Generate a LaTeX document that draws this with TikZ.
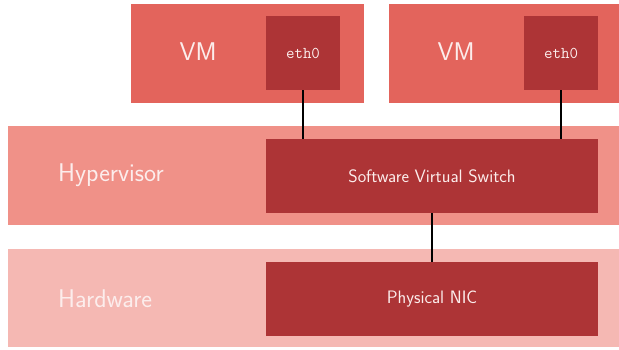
\documentclass[tikz,border=0pt]{standalone}
\usepackage{fontspec}
\definecolor{vmred}{HTML}{E3645C}
\definecolor{hypred}{HTML}{F09188}
\definecolor{hwred}{HTML}{F5B8B3}
\definecolor{devred}{HTML}{AD3436}
\definecolor{labeltext}{HTML}{FCEDEC}
\begin{document}
\begin{tikzpicture}[x=1pt,y=1pt,
  device/.style={fill=devred,draw=none,inner sep=0pt,text=labeltext,font=\sffamily\fontsize{18}{21}\selectfont},
  iface/.style={fill=devred,draw=none,inner sep=0pt,minimum width=74pt,minimum height=74pt,text=labeltext,font=\ttfamily\fontsize{16.5}{19}\selectfont},
  biglabel/.style={text=labeltext,font=\sffamily\fontsize{25.6}{30}\selectfont,inner sep=0pt},
  wire/.style={draw=black,line width=1.4pt}]
  \useasboundingbox (0,0) rectangle (619,349);
  % layers
  \fill[vmred] (131,246) rectangle (364,345);
  \fill[vmred] (389,246) rectangle (619,345);
  \fill[hypred] (8,124) rectangle (619,223);
  \fill[hwred] (8,2) rectangle (619,100);
  % layer labels
  \node[biglabel] (vm1) at (198,297) {VM};
  \node[biglabel] (vm2) at (456,297) {VM};
  \node[biglabel,anchor=west] (hyp) at (58,174) {Hypervisor};
  \node[biglabel,anchor=west] (hw) at (58,50) {Hardware};
  % devices
  \node[iface] (eth1) at (303,296) {eth0};
  \node[iface] (eth2) at (561,296) {eth0};
  \node[device,minimum width=332pt,minimum height=74pt] (sw) at (432,173) {Software Virtual Switch};
  \node[device,minimum width=332pt,minimum height=74pt] (nic) at (432,50) {Physical NIC};
  % links
  \draw[wire] (eth1.south) -- (eth1.south |- sw.north);
  \draw[wire] (eth2.south) -- (eth2.south |- sw.north);
  \draw[wire] (sw.south) -- (nic.north);
\end{tikzpicture}
\end{document}
